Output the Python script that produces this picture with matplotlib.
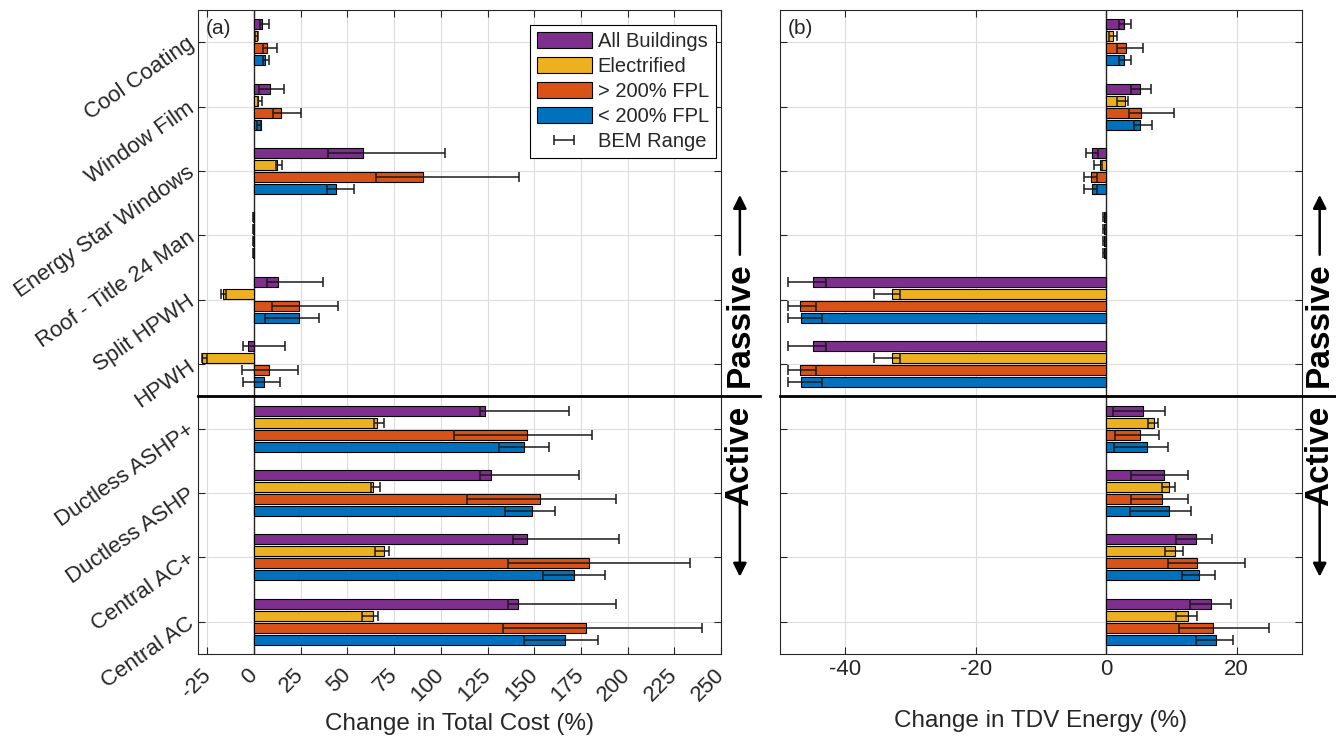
import numpy as np
import matplotlib.pyplot as plt
from matplotlib.transforms import blended_transform_factory

plt.rcParams['font.family'] = ['Liberation Sans', 'DejaVu Sans']
plt.rcParams['axes.unicode_minus'] = False

categories = ['Cool Coating', 'Window Film', 'Energy Star Windows', 'Roof - Title 24 Man',
              'Split HPWH', 'HPWH', 'Ductless ASHP+', 'Ductless ASHP', 'Central AC+', 'Central AC']
series_names = ['All Buildings', 'Electrified', '> 200% FPL', '< 200% FPL']
colors = ['#7E2F8E', '#EDB120', '#D95319', '#0072BD']

# (a) change in total cost, %: bar value plus BEM low/high
cost_all = [4.5, 8.6, 58.2, -0.4, 12.7, -3.0, 123.9, 126.6, 145.9, 141.1]
cost_all_lo = [3.0, 2.7, 39.8, -0.6, 7.1, -5.7, 120.8, 120.8, 138.6, 136.1]
cost_all_hi = [8.0, 16.3, 102.0, -0.2, 36.8, 16.6, 168.8, 174.0, 195.6, 194.0]
cost_elec = [1.8, 2.3, 12.5, -0.4, -16.8, -28.0, 65.6, 63.7, 69.8, 63.7]
cost_elec_lo = [0.5, 2.0, 12.0, -0.6, -17.9, -27.8, 64.0, 62.7, 64.6, 57.6]
cost_elec_hi = [2.0, 4.0, 15.2, -0.2, -15.0, -25.0, 69.8, 67.3, 72.3, 66.3]
cost_high = [6.8, 14.5, 90.4, -0.4, 24.3, 8.0, 145.9, 153.3, 179.3, 177.8]
cost_high_lo = [4.6, 10.4, 65.4, -0.6, 9.8, -6.3, 107.0, 114.1, 135.8, 133.5]
cost_high_hi = [12.1, 25.2, 141.6, -0.2, 45.2, 23.8, 180.7, 194.0, 233.3, 240.0]
cost_low = [5.9, 3.6, 43.8, -0.4, 24.3, 5.4, 144.7, 148.6, 171.5, 166.3]
cost_low_lo = [5.0, 1.5, 39.3, -0.6, 5.9, -5.7, 131.0, 134.2, 154.5, 144.7]
cost_low_hi = [8.0, 3.6, 53.6, -0.2, 34.6, 13.9, 157.7, 161.0, 187.8, 184.1]

# (b) change in TDV energy, %
tdv_all = [2.7, 5.2, -2.1, -0.3, -44.9, -44.9, 5.7, 8.9, 13.7, 16.1]
tdv_all_lo = [2.0, 3.8, -3.1, -0.5, -48.8, -48.8, 1.0, 3.8, 10.7, 12.8]
tdv_all_hi = [3.8, 6.8, -1.3, -0.1, -43.0, -43.0, 9.0, 12.5, 16.2, 19.1]
tdv_elec = [1.0, 2.9, -1.0, -0.3, -32.9, -32.9, 7.3, 9.6, 10.5, 12.5]
tdv_elec_lo = [0.5, 1.7, -1.9, -0.5, -35.6, -35.6, 6.4, 8.6, 9.0, 10.7]
tdv_elec_hi = [1.6, 3.4, -0.6, -0.1, -31.6, -31.6, 7.9, 10.5, 11.7, 13.9]
tdv_high = [3.0, 5.4, -2.4, -0.3, -46.9, -46.9, 5.2, 8.5, 13.9, 16.3]
tdv_high_lo = [1.7, 3.5, -3.4, -0.5, -48.7, -48.7, 1.3, 3.8, 9.4, 11.1]
tdv_high_hi = [5.6, 10.4, -1.4, -0.1, -44.4, -44.4, 8.1, 12.5, 21.3, 25.0]
tdv_low = [2.8, 5.2, -2.1, -0.3, -46.8, -46.8, 6.3, 9.7, 14.3, 16.8]
tdv_low_lo = [2.0, 4.3, -3.4, -0.5, -48.7, -48.7, 1.2, 3.6, 11.6, 13.7]
tdv_low_hi = [3.8, 7.0, -1.4, -0.1, -43.5, -43.5, 9.5, 13.0, 16.6, 19.5]

TXT = '#262626'


def draw_panel(ax, vals, lows, highs, xlim, xticks, label_x):
    y = np.arange(1, len(categories) + 1)
    bars = []
    eb = None
    for i in range(4):
        pos = y + (i - 1.5) * 0.186
        b = ax.barh(pos, vals[i], height=0.155, color=colors[i], edgecolor='black',
                    linewidth=0.8, label=series_names[i], zorder=3)
        bars.append(b)
        lo = np.array(lows[i])
        hi = np.array(highs[i])
        eb = ax.errorbar((lo + hi) / 2, pos, xerr=(hi - lo) / 2, fmt='none', ecolor='#1a1a1a',
                         elinewidth=1.1, capsize=3.8, capthick=1.1, zorder=4)
    ax.axvline(0, color=TXT, lw=1.0, zorder=2)
    ax.set_xlim(*xlim)
    ax.set_ylim(10.5, 0.5)
    ax.set_xticks(xticks)
    ax.set_yticks(y)
    ax.set_axisbelow(True)
    ax.grid(True, color='#DCDCDC', lw=0.8)
    ax.tick_params(direction='in', top=True, right=True, length=5, width=0.8,
                   colors=TXT, labelsize=16)
    for s in ax.spines.values():
        s.set_color(TXT)
        s.set_linewidth(0.8)

    # passive / active split
    trans = blended_transform_factory(ax.transAxes, ax.transData)
    ax.plot([0, 1.075], [6.5, 6.5], transform=trans, color='black', lw=2,
            clip_on=False, zorder=6)
    ax.text(label_x, 6.35, 'Passive', transform=trans, rotation=90, ha='center',
            va='bottom', fontsize=24, fontweight='bold', color='black')
    ax.text(label_x, 6.64, 'Active', transform=trans, rotation=90, ha='center',
            va='top', fontsize=24, fontweight='bold', color='black')
    arrow = dict(arrowstyle='-|>', color='black', lw=1.8, mutation_scale=20,
                 shrinkA=0, shrinkB=0)
    ax.annotate('', xy=(label_x, 3.37), xytext=(label_x, 4.3), xycoords=trans,
                textcoords=trans, arrowprops=arrow, annotation_clip=False)
    ax.annotate('', xy=(label_x, 9.3), xytext=(label_x, 8.15), xycoords=trans,
                textcoords=trans, arrowprops=arrow, annotation_clip=False)
    return bars, eb


fig = plt.figure(figsize=(13.36, 7.38), dpi=100)
ax1 = fig.add_axes([0.1482, 0.1138, 0.3915, 0.8726])
ax2 = fig.add_axes([0.5838, 0.1138, 0.3907, 0.8726])

bars, eb = draw_panel(ax1,
                      [cost_all, cost_elec, cost_high, cost_low],
                      [cost_all_lo, cost_elec_lo, cost_high_lo, cost_low_lo],
                      [cost_all_hi, cost_elec_hi, cost_high_hi, cost_low_hi],
                      (-30, 250), np.arange(-25, 251, 25), 1.036)
draw_panel(ax2,
           [tdv_all, tdv_elec, tdv_high, tdv_low],
           [tdv_all_lo, tdv_elec_lo, tdv_high_lo, tdv_low_lo],
           [tdv_all_hi, tdv_elec_hi, tdv_high_hi, tdv_low_hi],
           (-50, 30), [-40, -20, 0, 20], 1.034)

ax1.set_yticklabels(categories, rotation=35, ha='right', va='center',
                    rotation_mode='anchor', color=TXT, fontsize=16)
ax1.set_xticklabels([str(t) for t in np.arange(-25, 251, 25)], rotation=45,
                    ha='right', va='center', rotation_mode='anchor')
ax1.tick_params(axis='x', pad=13)
ax1.tick_params(axis='y', pad=4)
ax2.set_yticklabels([])

ax1.set_xlabel('Change in Total Cost (%)', fontsize=17.5, color=TXT, labelpad=5)
ax2.set_xlabel('Change in TDV Energy (%)', fontsize=17.5, color=TXT, labelpad=22)

ax1.text(0.015, 0.972, '(a)', transform=ax1.transAxes, fontsize=15, va='center', color=TXT)
ax2.text(0.015, 0.972, '(b)', transform=ax2.transAxes, fontsize=15, va='center', color=TXT)

leg = ax1.legend(list(bars) + [eb], series_names + ['BEM Range'], loc='upper right',
                 bbox_to_anchor=(0.99, 0.977), borderaxespad=0, fontsize=14.5,
                 handlelength=2.7, handleheight=0.8, handletextpad=0.3,
                 labelspacing=0.3, borderpad=0.35, fancybox=False, framealpha=1)
leg.get_frame().set_edgecolor('black')
leg.get_frame().set_linewidth(0.8)
for t in leg.get_texts():
    t.set_color(TXT)

fig.savefig('out.png', dpi=100)
